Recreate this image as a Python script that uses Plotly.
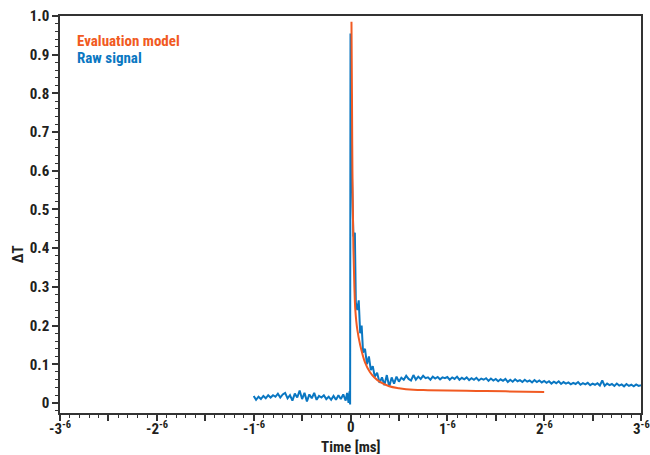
import plotly.graph_objects as go

# ---- Data ----
raw_t = [-1.0, -0.975, -0.95, -0.925, -0.9, -0.875, -0.85, -0.825, -0.8, -0.775,
         -0.75, -0.725, -0.7, -0.675, -0.65, -0.625, -0.6, -0.575, -0.55, -0.525,
         -0.5, -0.475, -0.45, -0.425, -0.4, -0.375, -0.35, -0.325, -0.3, -0.275,
         -0.25, -0.225, -0.2, -0.175, -0.15, -0.125, -0.1, -0.075, -0.05, -0.035,
         -0.02, -0.01, -0.004, 0.0, 0.012, 0.03, 0.045, 0.055, 0.07, 0.085,
         0.1, 0.115, 0.13, 0.15, 0.17, 0.19, 0.21, 0.23, 0.25, 0.275,
         0.3, 0.325, 0.35, 0.375, 0.4, 0.425, 0.45, 0.475, 0.5, 0.525,
         0.55, 0.575, 0.6, 0.625, 0.65, 0.675, 0.7, 0.725, 0.75, 0.775,
         0.8, 0.825, 0.85, 0.875, 0.9, 0.925, 0.95, 0.975, 1.0, 1.025,
         1.05, 1.075, 1.1, 1.125, 1.15, 1.175, 1.2, 1.225, 1.25, 1.275,
         1.3, 1.325, 1.35, 1.375, 1.4, 1.425, 1.45, 1.475, 1.5, 1.525,
         1.55, 1.575, 1.6, 1.625, 1.65, 1.675, 1.7, 1.725, 1.75, 1.775,
         1.8, 1.825, 1.85, 1.875, 1.9, 1.925, 1.95, 1.975, 2.0, 2.025,
         2.05, 2.075, 2.1, 2.125, 2.15, 2.175, 2.2, 2.225, 2.25, 2.275,
         2.3, 2.325, 2.35, 2.375, 2.4, 2.425, 2.45, 2.475, 2.5, 2.525,
         2.55, 2.575, 2.6, 2.625, 2.65, 2.675, 2.7, 2.725, 2.75, 2.775,
         2.8, 2.825, 2.85, 2.875, 2.9, 2.925, 2.95, 2.975, 3.0]
raw_dT = [0.018, 0.008, 0.016, 0.010, 0.018, 0.012, 0.020, 0.014, 0.020, 0.016,
          0.024, 0.014, 0.022, 0.026, 0.012, 0.020, 0.006, 0.024, 0.014, 0.032,
          0.010, 0.026, 0.004, 0.022, 0.012, 0.026, 0.008, 0.018, 0.014, 0.020,
          0.010, 0.016, 0.008, 0.018, 0.008, 0.020, 0.010, 0.022, 0.006, 0.026,
          0.000, 0.030, -0.004, 0.955, 0.620, 0.430, 0.440, 0.260, 0.240, 0.265,
          0.180, 0.200, 0.130, 0.140, 0.100, 0.120, 0.085, 0.095, 0.068, 0.078,
          0.052, 0.066, 0.046, 0.072, 0.042, 0.066, 0.050, 0.068, 0.055, 0.065,
          0.060, 0.070, 0.062, 0.058, 0.072, 0.060, 0.068, 0.062, 0.070, 0.064,
          0.066, 0.060, 0.068, 0.063, 0.067, 0.061, 0.066, 0.064, 0.067, 0.060,
          0.066, 0.062, 0.068, 0.060, 0.065, 0.061, 0.066, 0.059, 0.064, 0.060,
          0.065, 0.058, 0.063, 0.060, 0.064, 0.057, 0.063, 0.058, 0.062, 0.056,
          0.061, 0.057, 0.062, 0.054, 0.060, 0.055, 0.061, 0.056, 0.059, 0.054,
          0.060, 0.055, 0.058, 0.053, 0.059, 0.054, 0.058, 0.053, 0.057, 0.052,
          0.056, 0.050, 0.055, 0.051, 0.056, 0.049, 0.054, 0.050, 0.053, 0.048,
          0.052, 0.049, 0.054, 0.047, 0.051, 0.048, 0.052, 0.046, 0.050, 0.047,
          0.051, 0.045, 0.058, 0.044, 0.050, 0.046, 0.049, 0.044, 0.050, 0.045,
          0.048, 0.043, 0.049, 0.044, 0.047, 0.043, 0.048, 0.044, 0.046]

model_t = [0.01, 0.015, 0.02, 0.03, 0.04, 0.05, 0.07, 0.1, 0.15, 0.2,
           0.25, 0.3, 0.4, 0.5, 0.65, 0.8, 1.0, 1.3, 1.6, 2.0]
model_dT = [0.985, 0.80, 0.60, 0.40, 0.30, 0.24, 0.19, 0.15, 0.105, 0.08,
            0.065, 0.055, 0.043, 0.038, 0.034, 0.033, 0.032, 0.031, 0.030, 0.028]

x_tick_vals = [-3, -2.5, -2, -1.5, -1, -0.5, 0, 0.5, 1, 1.5, 2, 2.5, 3]
x_label_vals = [-3, -2, -1, 0, 1, 2, 3]
x_label_text = ["-3<sup>-6</sup>", "-2<sup>-6</sup>", "-1<sup>-6</sup>", "0",
                "1<sup>-6</sup>", "2<sup>-6</sup>", "3<sup>-6</sup>"]
y_tick_vals = [0, 0.1, 0.2, 0.3, 0.4, 0.5, 0.6, 0.7, 0.8, 0.9, 1.0]
y_tick_text = ["0", "0.1", "0.2", "0.3", "0.4", "0.5", "0.6", "0.7", "0.8", "0.9", "1.0"]

ORANGE = "#F15A22"
BLUE = "#0A77C2"
FONT = "Roboto Condensed, DejaVu Sans Condensed, Liberation Sans Narrow, Roboto, sans-serif"
TXT = "#231F20"

fig = go.Figure()
fig.add_trace(go.Scatter(x=raw_t, y=raw_dT, mode="lines", name="Raw signal",
                         line=dict(color=BLUE, width=2)))
fig.add_trace(go.Scatter(x=model_t, y=model_dT, mode="lines", name="Evaluation model",
                         line=dict(color=ORANGE, width=2, shape="spline")))

fig.update_layout(
    width=650, height=455,
    margin=dict(l=60, r=9, t=16, b=42, autoexpand=False),
    paper_bgcolor="white", plot_bgcolor="white",
    showlegend=False,
    font=dict(family=FONT, color=TXT),
)
fig.update_xaxes(
    range=[-3, 3], showgrid=False, zeroline=False, automargin=False,
    showline=True, mirror=True, linecolor="#333333", linewidth=1.5,
    tickmode="array", tickvals=x_tick_vals, showticklabels=False,
    ticks="outside", ticklen=6, tickwidth=1.5, tickcolor="#333333",
    minor=dict(dtick=0.1, tick0=0, ticks="outside", ticklen=3, tickwidth=1, tickcolor="#333333"),
)
fig.update_yaxes(
    range=[-0.026, 1.0], showgrid=False, zeroline=False, automargin=False,
    showline=True, mirror=True, linecolor="#333333", linewidth=1.5,
    tickmode="array", tickvals=y_tick_vals, ticktext=y_tick_text,
    ticks="outside", ticklen=6, tickwidth=1.5, tickcolor="#333333",
    tickfont=dict(family=FONT, size=15, color=TXT, weight="bold"),
    minor=dict(dtick=0.02, tick0=0, ticks="outside", ticklen=3, tickwidth=1, tickcolor="#333333"),
)

# x tick labels placed as annotations at the tick positions
for v, t in zip(x_label_vals, x_label_text):
    fig.add_annotation(text=t, xref="x", yref="paper", x=v, y=-0.008,
                       xanchor="center", yanchor="top", showarrow=False,
                       font=dict(family=FONT, size=15, color=TXT, weight="bold"))

fig.add_annotation(text="Time [ms]", xref="paper", yref="paper", x=0.5, y=-0.058,
                   xanchor="center", yanchor="top", showarrow=False,
                   font=dict(family=FONT, size=15, color=TXT, weight="bold"))
fig.add_annotation(text="ΔT", xref="paper", yref="y", x=-0.072, y=0.385,
                   xanchor="center", yanchor="middle", showarrow=False, textangle=-90,
                   font=dict(family=FONT, size=15, color=TXT, weight="bold"))
fig.add_annotation(text="Evaluation model", xref="paper", yref="paper", x=0.025, y=0.938,
                   xanchor="left", yanchor="middle", showarrow=False,
                   font=dict(family=FONT, size=15, color=ORANGE, weight="bold"))
fig.add_annotation(text="Raw signal", xref="paper", yref="paper", x=0.025, y=0.895,
                   xanchor="left", yanchor="middle", showarrow=False,
                   font=dict(family=FONT, size=15, color=BLUE, weight="bold"))

fig.write_html("out.html")
